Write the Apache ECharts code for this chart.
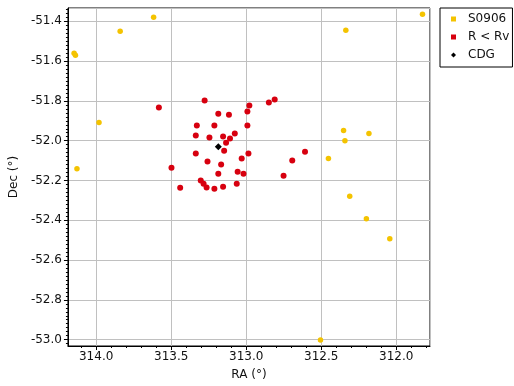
<!DOCTYPE html>
<html>
<head>
<meta charset="utf-8">
<script src="https://cdn.jsdelivr.net/npm/echarts@6/dist/echarts.min.js"></script>
<style>html,body{margin:0;padding:0;background:#fff}#c{width:514px;height:386px}</style>
</head>
<body>
<div id="c"></div>
<script>
// S0906 members (yellow)
const s0906Ra  = [314.147, 314.138, 313.840, 313.617, 313.981, 314.128, 311.825, 312.336, 312.351, 312.182, 312.342, 312.452, 312.310, 312.199, 312.043, 312.505];
const s0906Dec = [-51.561, -51.571, -51.450, -51.380, -51.909, -52.141, -51.365, -51.445, -51.949, -51.964, -52.000, -52.090, -52.279, -52.392, -52.493, -53.002];
// R < Rv (red)
const rRa  = [313.582, 313.277, 313.186, 313.115, 312.979, 312.992, 312.849, 312.810, 313.329, 313.212, 312.992, 313.336, 313.245, 313.154, 313.076, 313.108, 313.134, 313.147, 313.336, 312.985, 313.258, 313.030, 313.167, 312.608, 312.693, 312.751, 313.498, 313.186, 313.057, 313.018, 313.303, 313.284, 313.264, 313.440, 313.212, 313.154, 313.063];
const rDec = [-51.833, -51.798, -51.864, -51.869, -51.823, -51.853, -51.808, -51.793, -51.924, -51.924, -51.924, -51.974, -51.984, -51.979, -51.964, -51.989, -52.010, -52.050, -52.065, -52.065, -52.105, -52.090, -52.120, -52.055, -52.100, -52.176, -52.136, -52.166, -52.156, -52.166, -52.200, -52.216, -52.235, -52.236, -52.241, -52.231, -52.216];
// CDG
const cdgRa  = [313.186];
const cdgDec = [-52.030];

const seriesNames = ['S0906', 'R < Rv', 'CDG'];
const xRange = [311.775, 314.188];
const yRange = [-53.032, -51.333];
const xMinorStep = 0.1, yMinorStep = 0.02;

function minorTicks(lo, hi, step, major) {
  const out = [];
  const start = Math.ceil(lo / step - 1e-9);
  const end = Math.floor(hi / step + 1e-9);
  for (let k = start; k <= end; k++) {
    const v = +(k * step).toFixed(4);
    const r = v / major;
    if (Math.abs(r - Math.round(r)) > 1e-6) out.push(v);
  }
  return out;
}
const xMinor = minorTicks(xRange[0], xRange[1], xMinorStep, 0.5);
const yMinor = minorTicks(yRange[0], yRange[1], yMinorStep, 0.2);

const zip = (a, b) => a.map((v, i) => [v, b[i]]);
const font = 'DejaVu Sans';
const chart = echarts.init(document.getElementById('c'), null, {renderer: 'canvas'});
chart.setOption({
  animation: false,
  backgroundColor: '#fff',
  textStyle: {fontFamily: font},
  grid: {left: 58, right: 84, top: 8, bottom: 40, show: true, borderColor: '#000', borderWidth: 1, backgroundColor: 'transparent'},
  legend: {
    orient: 'vertical', left: 440, top: 8,
    padding: [5, 3, 6, 11], itemGap: 6, itemWidth: 5, itemHeight: 5,
    borderColor: '#000', borderWidth: 1,
    textStyle: {fontFamily: font, fontSize: 12, color: '#111', padding: [0, 0, 0, 7]},
    data: [
      {name: seriesNames[0], icon: 'rect'},
      {name: seriesNames[1], icon: 'rect'},
      {name: seriesNames[2], icon: 'diamond'}
    ]
  },
  xAxis: [{
    type: 'value', inverse: true, min: xRange[0], max: xRange[1], splitNumber: 5,
    name: 'RA (°)', nameLocation: 'middle', nameGap: 23,
    nameTextStyle: {fontFamily: font, fontSize: 12, color: '#111'},
    axisLine: {lineStyle: {color: '#000'}},
    axisTick: {show: true, length: 4, lineStyle: {color: '#000'}},
    axisLabel: {fontFamily: font, fontSize: 12, color: '#111', margin: 5, showMinLabel: false, showMaxLabel: false,
      formatter: v => v.toFixed(1)},
    splitLine: {show: true, lineStyle: {color: '#c0c0c0', width: 1}}
  }, {
    type: 'value', inverse: true, min: xRange[0], max: xRange[1], position: 'bottom', gridIndex: 0,
    axisLine: {show: false}, axisLabel: {show: false}, splitLine: {show: false},
    axisTick: {show: true, length: 2, customValues: xMinor, lineStyle: {color: '#000'}}
  }],
  yAxis: [{
    type: 'value', min: yRange[0], max: yRange[1], splitNumber: 8,
    name: 'Dec (°)', nameLocation: 'middle', nameGap: 42, nameRotate: 90,
    nameTextStyle: {fontFamily: font, fontSize: 12, color: '#111'},
    axisLine: {show: true, lineStyle: {color: '#000'}},
    axisTick: {show: true, length: 4, lineStyle: {color: '#000'}},
    axisLabel: {fontFamily: font, fontSize: 12, color: '#111', margin: 6, showMinLabel: false, showMaxLabel: false,
      formatter: v => v.toFixed(1)},
    splitLine: {show: true, lineStyle: {color: '#c0c0c0', width: 1}}
  }, {
    type: 'value', min: yRange[0], max: yRange[1], position: 'left', gridIndex: 0,
    axisLine: {show: false}, axisLabel: {show: false}, splitLine: {show: false},
    axisTick: {show: true, length: 2, customValues: yMinor, lineStyle: {color: '#000'}}
  }],
  series: [
    {name: seriesNames[0], type: 'scatter', symbol: 'circle', symbolSize: 5.5,
     itemStyle: {color: '#F4C300', opacity: 1}, data: zip(s0906Ra, s0906Dec)},
    {name: seriesNames[1], type: 'scatter', symbol: 'circle', symbolSize: 6,
     itemStyle: {color: '#D7000F', opacity: 1}, data: zip(rRa, rDec)},
    {name: seriesNames[2], type: 'scatter', symbol: 'diamond', symbolSize: 7,
     itemStyle: {color: '#000', opacity: 1}, data: zip(cdgRa, cdgDec), z: 5}
  ]
});
</script>
</body>
</html>
